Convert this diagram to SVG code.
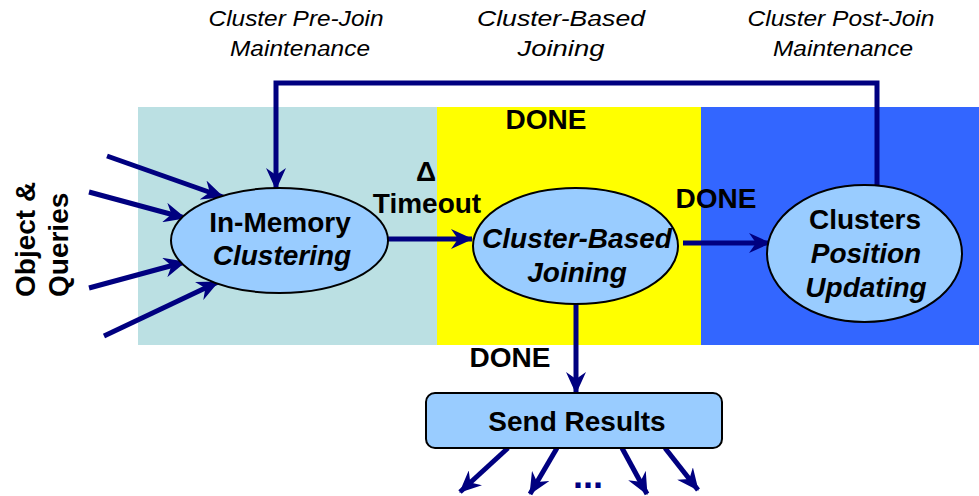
<svg xmlns="http://www.w3.org/2000/svg" width="979" height="496" viewBox="0 0 979 496">
<style>
.b{font-family:"Liberation Sans",Arial,sans-serif;font-weight:bold;font-size:28px;fill:#000}
.bi{font-family:"Liberation Sans",Arial,sans-serif;font-weight:bold;font-style:italic;font-size:28px;fill:#000}
.it{font-family:"Liberation Sans",Arial,sans-serif;font-style:italic;font-size:22px;fill:#000}
.node{fill:#99CCFF;stroke:#000;stroke-width:2}
.c{stroke:#000080;fill:none;stroke-width:5}
</style>
<defs>
<marker id="ah" viewBox="0 0 22 20" markerWidth="22" markerHeight="20" refX="21" refY="10" orient="auto" markerUnits="userSpaceOnUse">
<path d="M0,0 L22,10 L0,20 L7,10 z" fill="#000080"/>
</marker>
</defs>
<rect x="0" y="0" width="979" height="496" fill="#fff"/>
<g id="backgrounds">
<rect x="138" y="107" width="299" height="238" fill="#BBE0E3"/>
<rect x="437" y="107" width="264" height="238" fill="#FFFF00"/>
<rect x="701" y="107" width="278" height="238" fill="#3366FF"/>
</g>
<g id="phase-labels">
<text class="it" x="296" y="26" text-anchor="middle" textLength="175" lengthAdjust="spacingAndGlyphs">Cluster Pre-Join</text>
<text class="it" x="300" y="56" text-anchor="middle" textLength="140" lengthAdjust="spacingAndGlyphs">Maintenance</text>
<text class="it" x="561" y="26" text-anchor="middle" textLength="168" lengthAdjust="spacingAndGlyphs">Cluster-Based</text>
<text class="it" x="561" y="56" text-anchor="middle" textLength="87" lengthAdjust="spacingAndGlyphs">Joining</text>
<text class="it" x="841" y="26" text-anchor="middle" textLength="187" lengthAdjust="spacingAndGlyphs">Cluster Post-Join</text>
<text class="it" x="843" y="56" text-anchor="middle" textLength="140" lengthAdjust="spacingAndGlyphs">Maintenance</text>
</g>
<g id="input-label">
<text class="b" transform="translate(35,297) rotate(-90)">Object &amp;</text>
<text class="b" transform="translate(68,297) rotate(-90)">Queries</text>
</g>
<g id="connectors">
<line class="c" x1="107" y1="156" x2="223" y2="197" marker-end="url(#ah)"/>
<line class="c" x1="89" y1="192" x2="185" y2="218" marker-end="url(#ah)"/>
<line class="c" x1="89" y1="288" x2="185" y2="262" marker-end="url(#ah)"/>
<line class="c" x1="104" y1="336" x2="218" y2="282" marker-end="url(#ah)"/>
<polyline class="c" stroke-width="4" points="877,185 877,83 276,83 276,189" marker-end="url(#ah)"/>
<line class="c" x1="388" y1="239" x2="472" y2="239" marker-end="url(#ah)"/>
<line class="c" x1="683" y1="243" x2="770" y2="243" marker-end="url(#ah)"/>
<line class="c" x1="576" y1="304" x2="576" y2="393" marker-end="url(#ah)"/>
<line class="c" x1="508" y1="448" x2="460" y2="492" marker-end="url(#ah)"/>
<line class="c" x1="557" y1="448" x2="530" y2="494" marker-end="url(#ah)"/>
<line class="c" x1="622" y1="448" x2="647" y2="494" marker-end="url(#ah)"/>
<line class="c" x1="665" y1="448" x2="698" y2="490" marker-end="url(#ah)"/>
</g>
<g id="edge-labels">
<text class="b" x="546" y="129" text-anchor="middle">DONE</text>
<text class="b" x="426" y="181" text-anchor="middle">Δ</text>
<text class="b" x="427" y="213" text-anchor="middle">Timeout</text>
<text class="b" x="716" y="208" text-anchor="middle">DONE</text>
<text class="b" x="510" y="367" text-anchor="middle">DONE</text>
<text class="b" x="588" y="488" text-anchor="middle" style="fill:#000080;font-size:36px">...</text>
</g>
<g id="in-memory-clustering">
<ellipse class="node" cx="279.5" cy="240.5" rx="108.5" ry="52.5"/>
<text class="b" x="280" y="232" text-anchor="middle">In-Memory</text>
<text class="bi" x="282" y="265" text-anchor="middle">Clustering</text>
</g>
<g id="cluster-based-joining">
<ellipse class="node" cx="575.5" cy="246" rx="102.5" ry="58"/>
<text class="bi" x="577" y="248" text-anchor="middle">Cluster-Based</text>
<text class="bi" x="577" y="282" text-anchor="middle">Joining</text>
</g>
<g id="clusters-position-updating">
<ellipse class="node" cx="864.5" cy="253.5" rx="97.5" ry="68.5"/>
<text class="b" x="865" y="229" text-anchor="middle">Clusters</text>
<text class="bi" x="866" y="263" text-anchor="middle">Position</text>
<text class="bi" x="866" y="297" text-anchor="middle">Updating</text>
</g>
<g id="send-results">
<rect class="node" x="426" y="393" width="296" height="55" rx="9"/>
<text class="b" x="577" y="431" text-anchor="middle">Send Results</text>
</g>
</svg>
